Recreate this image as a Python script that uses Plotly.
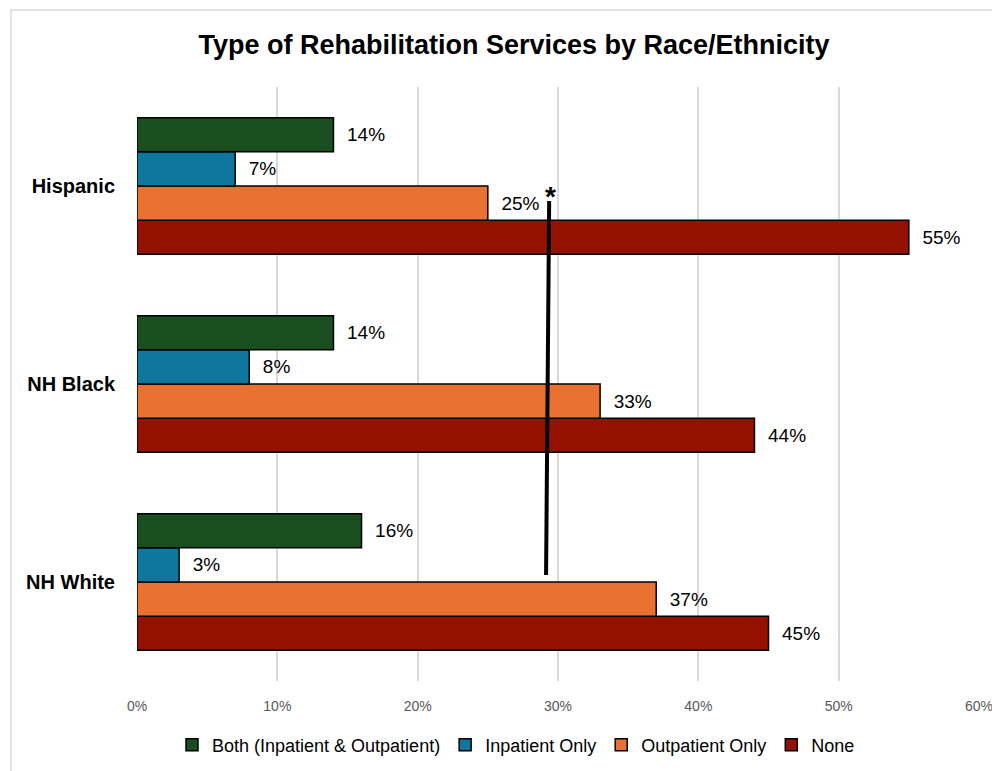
import plotly.graph_objects as go

categories = ["Hispanic", "NH Black", "NH White"]
series_names = ["Both (Inpatient & Outpatient)", "Inpatient Only", "Outpatient Only", "None"]
both = [14, 14, 16]
inpatient = [7, 8, 3]
outpatient = [25, 33, 37]
none = [55, 44, 45]
colors = ["#194F1E", "#0F769E", "#E97132", "#941100"]
x_ticks = [0, 10, 20, 30, 40, 50, 60]
x_tick_labels = ["0%", "10%", "20%", "30%", "40%", "50%", "60%"]
title = "Type of Rehabilitation Services by Race/Ethnicity"

series_vals = [both, inpatient, outpatient, none]

# page body has an 8px margin; figure occupies 8..1000 x 8..771
OFF = 8
W, H = 1000 - OFF, 771 - OFF
L, R, T, B = 137 - OFF, 21, 87 - OFF, 90
PW, PH = W - L - R, H - T - B


def px_x(px):
    return (px - OFF - L) / PW


def px_y(py):
    return (H - B - (py - OFF)) / PH


fig = go.Figure()
# add in reverse so "Both" sits on top of each group
for name, vals, col in reversed(list(zip(series_names, series_vals, colors))):
    fig.add_trace(go.Bar(
        y=categories, x=vals, name=name, orientation="h",
        marker=dict(color=col, line=dict(color="#000000", width=1.5)),
        text=[f"  {v}%" for v in vals], textposition="outside",
        textfont=dict(family="Liberation Sans, Arial, sans-serif", size=19, color="#000000"),
        cliponaxis=False,
    ))

fig.update_layout(
    width=W, height=H,
    paper_bgcolor="white", plot_bgcolor="white",
    margin=dict(l=L, r=R, t=T, b=B, autoexpand=False),
    barmode="group", bargap=0.31, bargroupgap=0,
    title=dict(text=f"<b>{title}</b>", x=px_x(514), xref="paper", xanchor="center",
               y=1 - (45 - OFF) / H, yanchor="middle",
               font=dict(family="Liberation Sans Narrow, Arial Narrow, sans-serif", size=27, color="#000000")),
    legend=dict(orientation="h", x=px_x(516), xanchor="center", y=px_y(745), yanchor="middle",
                traceorder="reversed",
                font=dict(family="Liberation Sans Narrow, Arial Narrow, sans-serif", size=18, color="#000000"),
                itemwidth=30),
    xaxis=dict(range=[0, 60], tickvals=x_ticks, ticktext=x_tick_labels, automargin=False,
               showgrid=True, gridcolor="#D9D9D9", gridwidth=1.5, zeroline=False,
               showline=False, ticks="", ticklabelstandoff=15,
               tickfont=dict(family="Liberation Sans, Arial, sans-serif", size=14, color="#595959")),
    yaxis=dict(categoryorder="array", categoryarray=list(reversed(categories)), automargin=False,
               showgrid=False, zeroline=False, showline=False, ticks="",
               ticklabelstandoff=21,
               tickfont=dict(family="Liberation Sans, Arial, sans-serif", size=20, color="#000000")),
)
# bold category labels
fig.update_yaxes(tickvals=categories, ticktext=[f"<b>{c}</b>" for c in categories])

# chart border
fig.add_shape(type="rect", xref="paper", yref="paper",
              x0=px_x(11), x1=px_x(1020), y0=px_y(800), y1=px_y(10),
              line=dict(color="#D9D9D9", width=1.5), fillcolor="rgba(0,0,0,0)", layer="below")

# significance line and asterisk
fig.add_shape(type="line", xref="x", yref="paper",
              x0=29.37, y0=px_y(201), x1=29.15, y1=px_y(575),
              line=dict(color="#000000", width=4))
fig.add_annotation(x=29.5, y=px_y(196), xref="x", yref="paper",
                   text="<b>*</b>", showarrow=False, yanchor="middle",
                   font=dict(family="Liberation Sans, Arial, sans-serif", size=28, color="#000000"))

fig.write_html("out.html")
